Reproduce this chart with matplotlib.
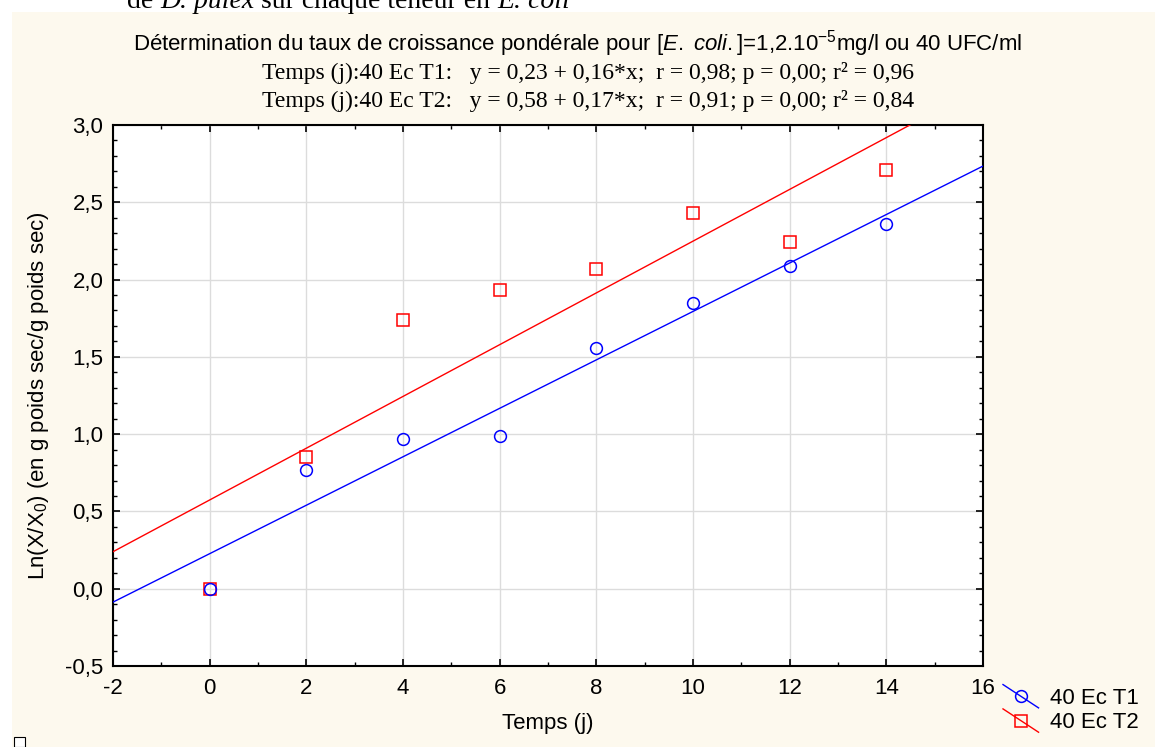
import numpy as np
import matplotlib
matplotlib.use("Agg")
import matplotlib.pyplot as plt
from matplotlib.lines import Line2D
from matplotlib.patches import Rectangle
from matplotlib.legend_handler import HandlerLine2D
from matplotlib.ticker import MultipleLocator, FuncFormatter

plt.rcParams['font.family'] = ['Liberation Sans', 'DejaVu Sans']
plt.rcParams['mathtext.fontset'] = 'custom'
plt.rcParams['mathtext.rm'] = 'Liberation Sans'
plt.rcParams['mathtext.it'] = 'Liberation Sans:italic'

# data
temps = [0, 2, 4, 6, 8, 10, 12, 14]
ec_t1 = [0.0, 0.77, 0.97, 0.99, 1.56, 1.85, 2.09, 2.36]
ec_t2 = [0.0, 0.85, 1.74, 1.93, 2.07, 2.43, 2.24, 2.71]
series_names = ["40 Ec T1", "40 Ec T2"]
eq_lines = [
    "Temps (j):40 Ec T1:   y = 0,23 + 0,16*x;  r = 0,98; p = 0,00; r\u00b2 = 0,96",
    "Temps (j):40 Ec T2:   y = 0,58 + 0,17*x;  r = 0,91; p = 0,00; r\u00b2 = 0,84",
]

W, H = 1155, 747
fig = plt.figure(figsize=(W / 100, H / 100), dpi=100, facecolor='white')

# cream panel behind the chart
fig.patches.append(Rectangle((12 / W, 0), 1, 1 - 12 / H, transform=fig.transFigure,
                             facecolor='#fdf9ee', edgecolor='none', zorder=-10))

ax = fig.add_axes([113 / W, 1 - 666 / H, (983 - 113) / W, (666 - 125) / H])
ax.set_facecolor('white')

x = np.array(temps)
xx = np.array([-2, 16])
for y, col, mk, name in [(ec_t2, 'red', 's', series_names[1]),
                         (ec_t1, 'blue', 'o', series_names[0])]:
    b, a = np.polyfit(x, np.array(y), 1)
    ax.plot(xx, a + b * xx, color=col, lw=1.0, zorder=3)
    ax.plot(x, y, ls='none', marker=mk, ms=8.5 if mk == 'o' else 8,
            mfc='none', mec=col, mew=1.1, zorder=4, label=name)

ax.set_xlim(-2, 16)
ax.set_ylim(-0.5, 3.0)
ax.xaxis.set_major_locator(MultipleLocator(2))
ax.xaxis.set_minor_locator(MultipleLocator(1))
ax.yaxis.set_major_locator(MultipleLocator(0.5))
ax.yaxis.set_minor_locator(MultipleLocator(0.1))
ax.xaxis.set_major_formatter(FuncFormatter(lambda v, p: f"{v:.0f}"))
ax.yaxis.set_major_formatter(FuncFormatter(lambda v, p: f"{v:.1f}".replace('.', ',')))
ax.grid(True, which='major', color='#dcdcdc', lw=1.0, zorder=0)
ax.set_axisbelow(True)
ax.tick_params(which='both', direction='in', top=True, right=True, labelsize=16, color='black')
ax.tick_params(which='major', length=5, width=1.2)
ax.tick_params(which='minor', length=3, width=1.0)
ax.tick_params(axis='x', pad=9)
ax.tick_params(axis='y', pad=7)
for s in ax.spines.values():
    s.set_linewidth(1.5)

ax.set_xlabel("Temps (j)", fontsize=16, labelpad=10)
ax.set_ylabel(r"Ln(X/X$_0$) (en g poids sec/g poids sec)", fontsize=16, labelpad=10)

fig.text(0.5, 1 - 44 / H, r"Détermination du taux de croissance pondérale pour [$\it{E.\ coli.}$]=1,2.10$^{\rm{-5}}$mg/l ou 40 UFC/ml",
         ha='center', va='center', fontsize=16)
for i, line in enumerate(eq_lines):
    fig.text(262 / W, 1 - (73 + 28 * i) / H, line, ha='left', va='center',
             fontsize=17, family=['Liberation Serif', 'DejaVu Serif'])

# clipped heading above the panel
renderer = fig.canvas.get_renderer()
xpos = 127 / W
for piece, style in [("de ", 'normal'), ("D. pulex", 'italic'),
                     (" sur chaque teneur en ", 'normal'), ("E. coli", 'italic')]:
    t = fig.text(xpos, 1 - 8 / H, piece, ha='left', va='baseline', fontsize=20,
                 style=style, family=['Liberation Serif', 'DejaVu Serif'])
    bb = t.get_window_extent(renderer)
    xpos += bb.width / W


class DiagHandler(HandlerLine2D):
    def create_artists(self, legend, orig_handle, xdescent, ydescent, width, height, fontsize, trans):
        col = orig_handle.get_markeredgecolor()
        ln = Line2D([-xdescent, width - xdescent], [height * 1.25 - ydescent, -0.25 * height - ydescent],
                    color=col, lw=1.0)
        mk = Line2D([width / 2 - xdescent], [height / 2 - ydescent], ls='none',
                    marker=orig_handle.get_marker(), ms=orig_handle.get_markersize(),
                    mfc='none', mec=col, mew=1.1)
        ln.set_transform(trans)
        mk.set_transform(trans)
        return [ln, mk]


handles, labels = ax.get_legend_handles_labels()
order = [1, 0]
fig.legend([handles[i] for i in order], [labels[i] for i in order],
           handler_map={Line2D: DiagHandler()}, loc='upper left',
           bbox_to_anchor=(1003 / W, 1 - 688 / H), frameon=False, fontsize=16,
           handlelength=1.6, handletextpad=0.5, labelspacing=0.15, borderpad=0, borderaxespad=0)

# small stray box at the bottom-left corner
fig.patches.append(Rectangle((14 / W, 1 - 747 / H), 11 / W, 10 / H, transform=fig.transFigure,
                             facecolor='white', edgecolor='black', lw=0.8))

fig.savefig("out.png", dpi=100)
